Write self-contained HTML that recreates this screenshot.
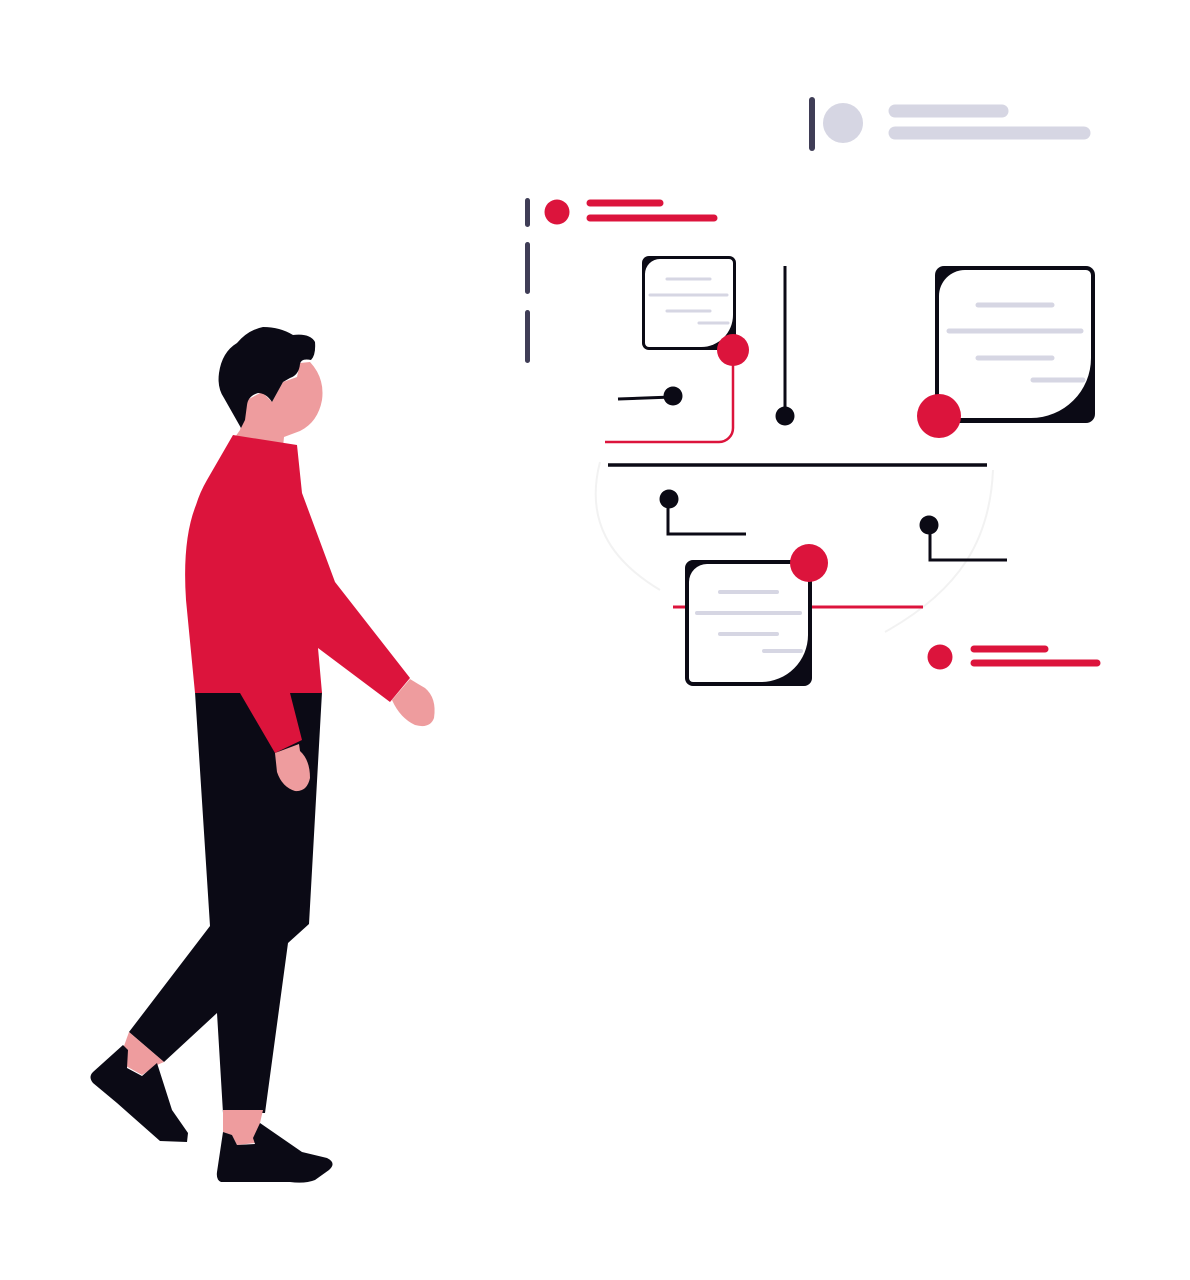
<!DOCTYPE html>
<html><head><meta charset="utf-8"><style>html,body{margin:0;padding:0;background:#fff}svg{display:block}</style></head>
<body>
<svg width="1190" height="1280" viewBox="0 0 1190 1280" xmlns="http://www.w3.org/2000/svg">
<path d="M600 462 C585 520 610 560 660 590" fill="none" stroke="#f2f2f2" stroke-width="2"/>
<path d="M993 470 C990 540 960 590 885 632" fill="none" stroke="#f2f2f2" stroke-width="2"/>

<rect x="809" y="97" width="6" height="54" rx="3" fill="#3f3d56"/>
<circle cx="843" cy="123" r="20" fill="#d6d6e3"/>
<line x1="895" y1="111" x2="1002" y2="111" stroke="#d6d6e3" stroke-width="13" stroke-linecap="round"/>
<line x1="895" y1="133" x2="1084" y2="133" stroke="#d6d6e3" stroke-width="13" stroke-linecap="round"/>

<rect x="525" y="198" width="5" height="29" rx="2.5" fill="#3f3d56"/>
<rect x="525" y="242" width="5" height="52" rx="2.5" fill="#3f3d56"/>
<rect x="525" y="310" width="5" height="53" rx="2.5" fill="#3f3d56"/>
<circle cx="557" cy="212" r="12.5" fill="#dc143c"/>
<line x1="590" y1="203" x2="660" y2="203" stroke="#dc143c" stroke-width="7" stroke-linecap="round"/>
<line x1="590" y1="218" x2="714" y2="218" stroke="#dc143c" stroke-width="7" stroke-linecap="round"/>

<rect x="642" y="256" width="94" height="94" rx="7" fill="#0b0a15"/>
<path d="M660 259 H729 a4 4 0 0 1 4 4 V315 a32 32 0 0 1 -32 32 H649 a4 4 0 0 1 -4 -4 V274 a15 15 0 0 1 15 -15 Z" fill="#fff"/>
<g stroke="#d6d6e3" stroke-width="3" stroke-linecap="round">
<line x1="667" y1="279" x2="710" y2="279"/><line x1="650" y1="295" x2="727" y2="295"/>
<line x1="667" y1="311" x2="710" y2="311"/><line x1="699" y1="323" x2="728" y2="323"/></g>
<path d="M733 350 V428 a14 14 0 0 1 -14 14 H605" fill="none" stroke="#dc143c" stroke-width="2.5"/>
<circle cx="733" cy="350" r="16" fill="#dc143c"/>
<line x1="618" y1="399" x2="672" y2="397" stroke="#0b0a15" stroke-width="3"/>
<circle cx="673" cy="396" r="9.5" fill="#0b0a15"/>
<line x1="785" y1="266" x2="785" y2="414" stroke="#0b0a15" stroke-width="3"/>
<circle cx="785" cy="416" r="9.5" fill="#0b0a15"/>

<rect x="935" y="266" width="160" height="157" rx="9" fill="#0b0a15"/>
<path d="M965 270 H1086 a5 5 0 0 1 5 5 V358 a60 60 0 0 1 -60 60 H944 a5 5 0 0 1 -5 -5 V296 a26 26 0 0 1 26 -26 Z" fill="#fff"/>
<g stroke="#d6d6e3" stroke-width="5" stroke-linecap="round">
<line x1="978" y1="305" x2="1052" y2="305"/><line x1="949" y1="331" x2="1081" y2="331"/>
<line x1="978" y1="358" x2="1052" y2="358"/><line x1="1033" y1="380" x2="1083" y2="380"/></g>
<circle cx="939" cy="416" r="22" fill="#dc143c"/>

<line x1="608" y1="465" x2="987" y2="465" stroke="#0b0a15" stroke-width="3.5"/>
<circle cx="669" cy="499" r="9.5" fill="#0b0a15"/>
<path d="M668 500 V534 H746" fill="none" stroke="#0b0a15" stroke-width="3"/>
<circle cx="929" cy="525" r="9.5" fill="#0b0a15"/>
<path d="M930 526 V560 H1007" fill="none" stroke="#0b0a15" stroke-width="3"/>

<line x1="673" y1="607" x2="923" y2="607" stroke="#dc143c" stroke-width="3"/>
<rect x="685" y="560" width="127" height="126" rx="8" fill="#0b0a15"/>
<path d="M706 564 H805 a3 3 0 0 1 3 3 V635 a47 47 0 0 1 -47 47 H693 a4 4 0 0 1 -4 -4 V582 a18 18 0 0 1 18 -18 Z" fill="#fff"/>
<g stroke="#d6d6e3" stroke-width="4" stroke-linecap="round">
<line x1="720" y1="592" x2="777" y2="592"/><line x1="697" y1="613" x2="800" y2="613"/>
<line x1="720" y1="634" x2="777" y2="634"/><line x1="764" y1="651" x2="801" y2="651"/></g>
<circle cx="809" cy="563" r="19" fill="#dc143c"/>

<circle cx="940" cy="657" r="12.5" fill="#dc143c"/>
<line x1="974" y1="649" x2="1045" y2="649" stroke="#dc143c" stroke-width="7" stroke-linecap="round"/>
<line x1="974" y1="663" x2="1097" y2="663" stroke="#dc143c" stroke-width="7" stroke-linecap="round"/>

<path d="M195 692 L322 692 L309 924 L288 943 L265 1113 L223 1113 L217 1013 L164 1062 L129 1032 L210 926 Z" fill="#0b0a15"/>
<path d="M129 1032 L164 1062 L157 1065 L142 1075 L126 1066 L124 1046 Z" fill="#ee9c9e"/>
<path d="M223 1110 L263 1110 L260 1123 L255 1143 L237 1145 L232 1135 L223 1132 Z" fill="#ee9c9e"/>
<path d="M123 1045 L128 1050 L127 1068 L142 1076 L157 1063 L172 1110 L188 1133 L187 1142 L160 1141 L117 1103 L93 1083 Q88 1077 93 1072 Z" fill="#0b0a15"/>
<path d="M223 1132 L232 1135 L237 1145 L255 1144 L253 1138 L260 1123 L302 1152 L327 1158 Q337 1163 329 1170 L315 1180 Q305 1184 290 1182 L221 1182 Q216 1180 217 1172 Z" fill="#0b0a15"/>
<path d="M240 430 L247 400 L262 392 L272 402 L283 382 L297 377 L300 363 L310 362 Q325 378 322 400 Q318 422 300 431 L284 437 L283 447 L233 440 Z" fill="#ee9c9e"/>
<path d="M219 373 Q222 352 237 343 Q248 330 263 327 Q280 327 293 335 Q310 333 315 342 Q316 355 311 360 Q301 358 300 364 Q299 375 290 378 L283 382 L272 402 Q266 393 258 393 Q248 396 247 405 L245 420 L241 428 L224 398 Q217 388 219 373 Z" fill="#0b0a15"/>
<path d="M233 435 L297 445 L302 493 L335 582 L410 678 L390 702 L318 648 L322 693 L290 693 L302 740 L275 753 L240 693 L195 693 L186 600 Q182 540 196 505 Q200 492 207 480 Z" fill="#dc143c"/>
<path d="M392 700 L410 679 Q418 684 425 688 Q437 698 434 718 Q430 729 415 725 Q400 718 392 700 Z" fill="#ee9c9e"/>
<path d="M275 753 L299 744 L300 751 Q310 760 310 778 Q307 792 295 791 Q282 787 277 772 Z" fill="#ee9c9e"/>
</svg>
</body></html>
